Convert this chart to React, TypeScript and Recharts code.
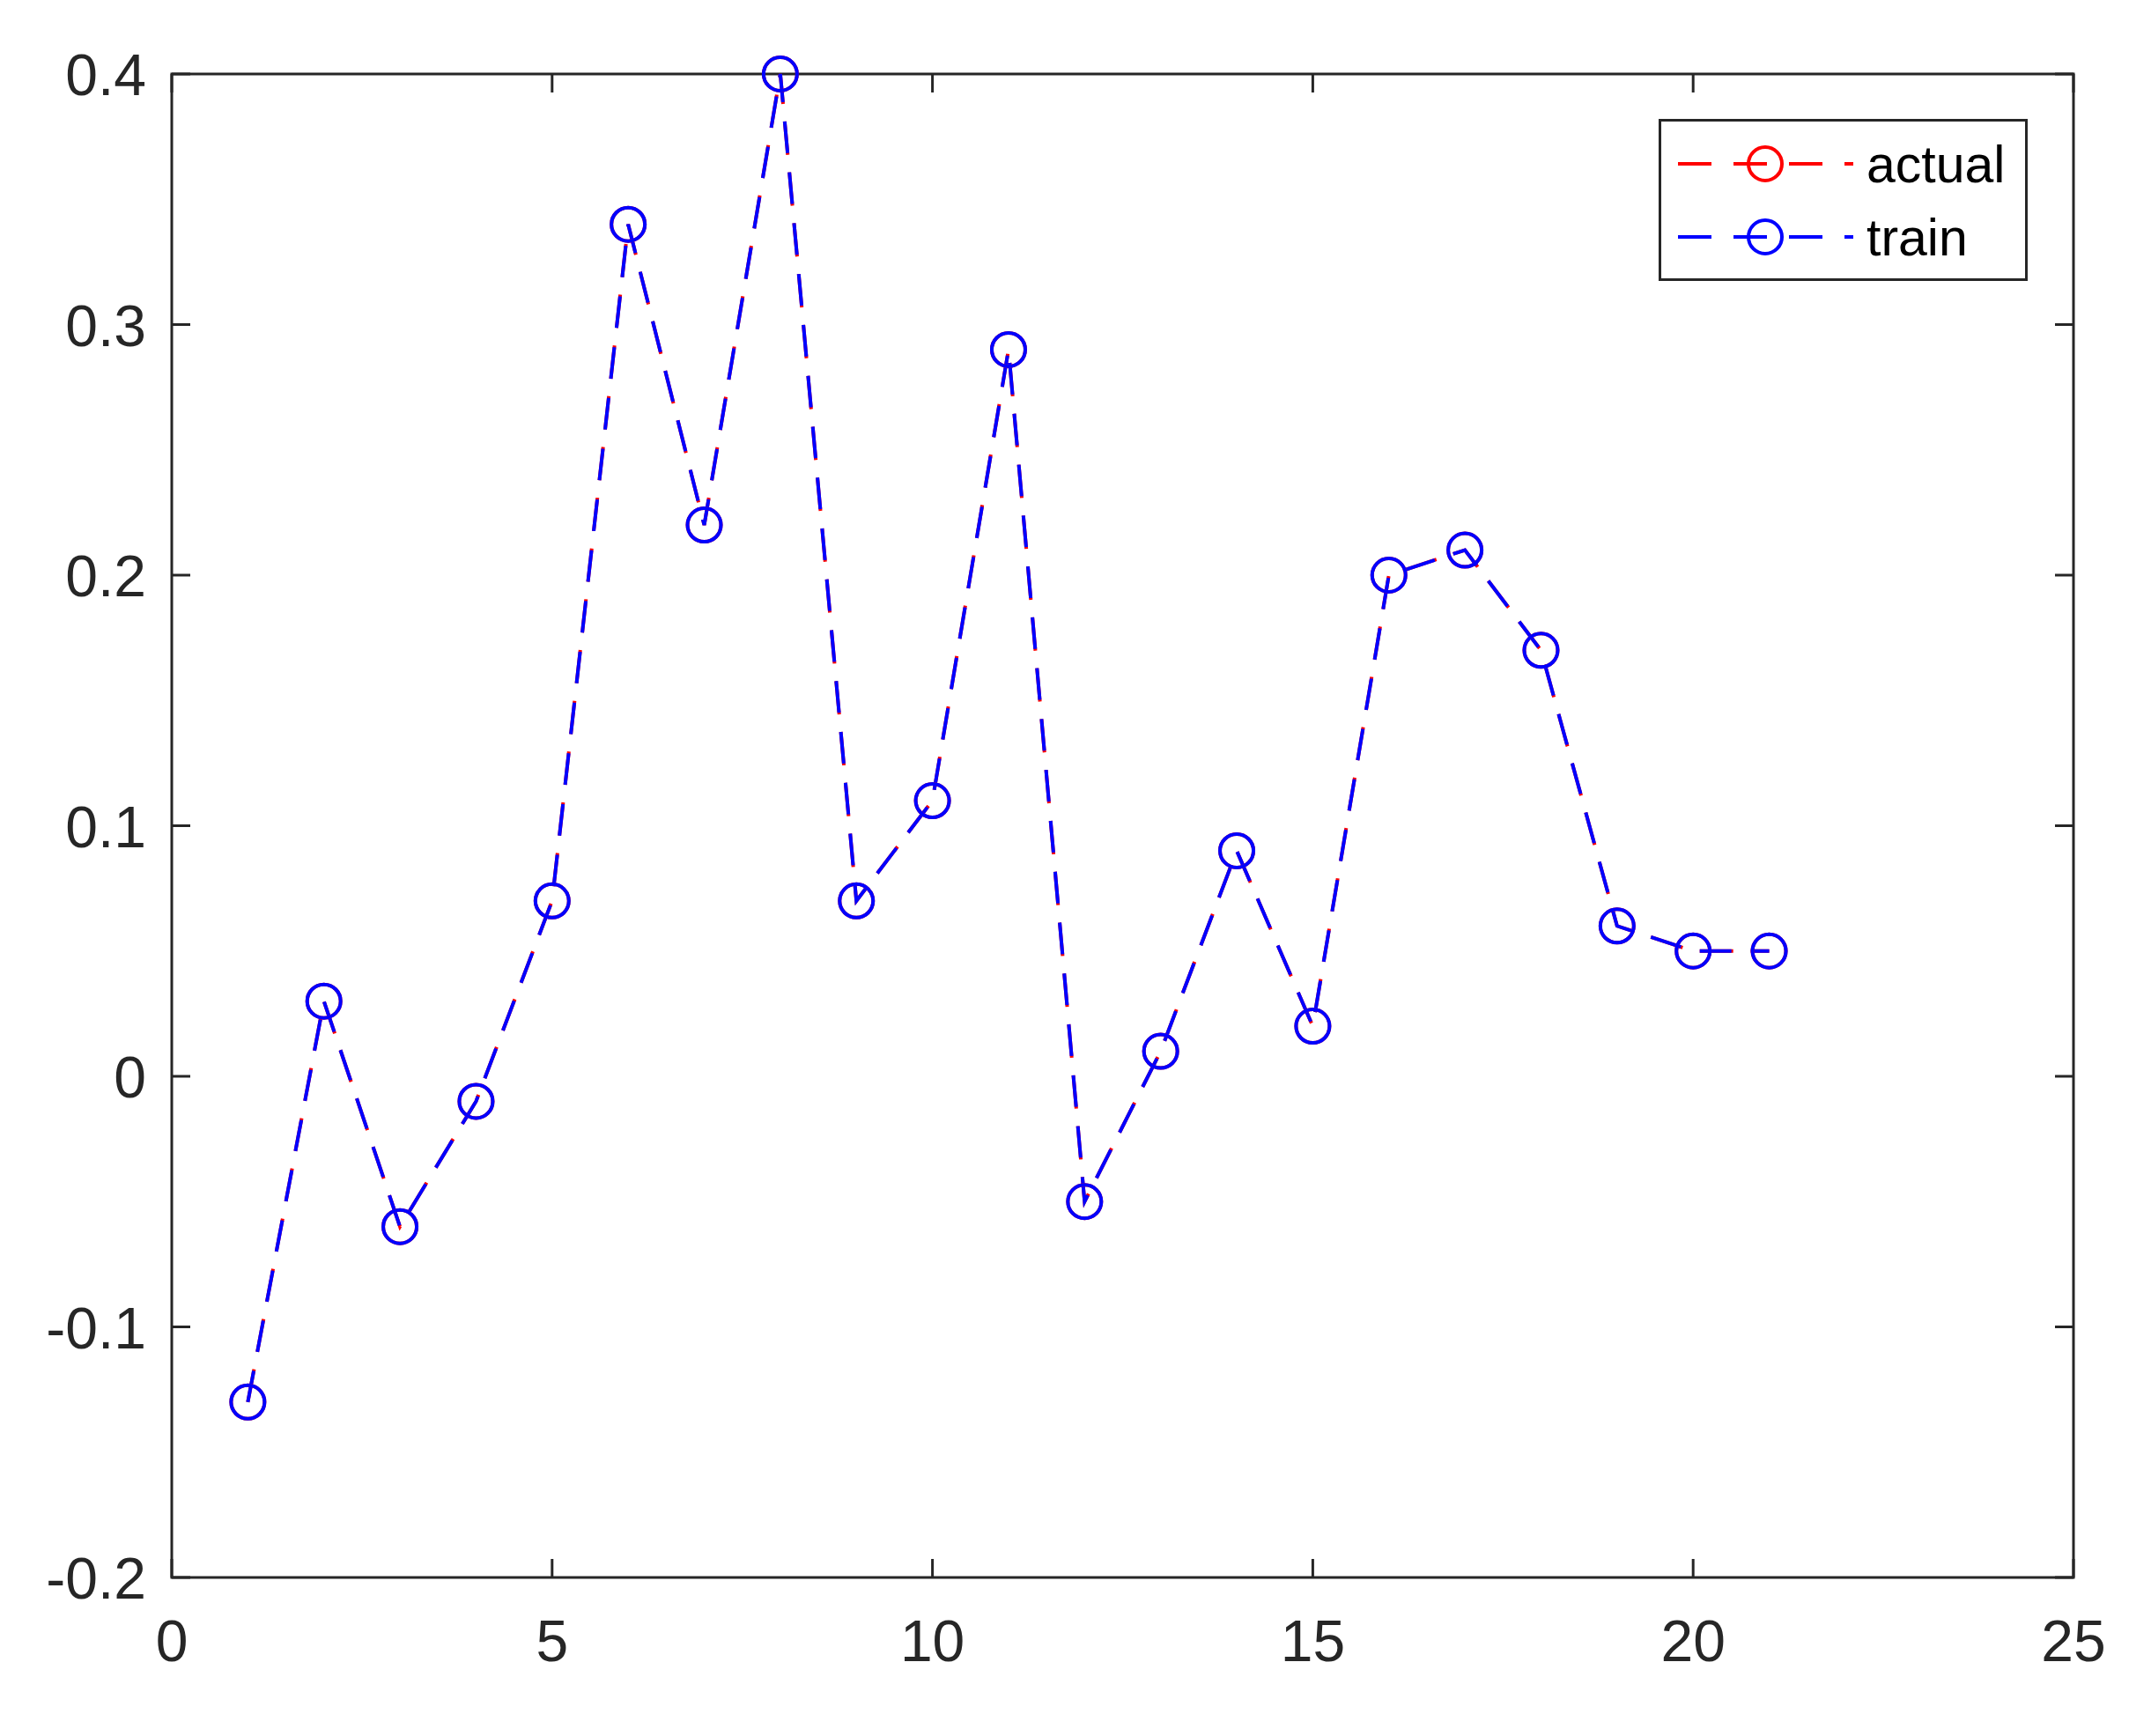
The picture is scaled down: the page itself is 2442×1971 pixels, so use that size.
import { Legend, Line, LineChart, ReferenceArea, XAxis, YAxis } from 'recharts';

// sample index and the two series (they overlap almost exactly)
const steps = [1, 2, 3, 4, 5, 6, 7, 8, 9, 10, 11, 12, 13, 14, 15, 16, 17, 18, 19, 20, 21];
const actualValues = [-0.13, 0.03, -0.06, -0.01, 0.07, 0.34, 0.22, 0.4, 0.07, 0.11, 0.29, -0.05, 0.01, 0.09, 0.02, 0.2, 0.21, 0.17, 0.06, 0.05, 0.05];
const trainValues = [-0.13, 0.03, -0.06, -0.01, 0.07, 0.34, 0.22, 0.4, 0.07, 0.11, 0.29, -0.05, 0.01, 0.09, 0.02, 0.2, 0.21, 0.17, 0.06, 0.05, 0.05];

const xTicks = [0, 5, 10, 15, 20, 25];
const yTicks = [-0.2, -0.1, 0, 0.1, 0.2, 0.3, 0.4];

const data = steps.map((x, i) => ({ x, actual: actualValues[i], train: trainValues[i] }));

const W = 2442;
const H = 1971;
const PLOT_LEFT = 195;
const PLOT_RIGHT = 2354;
const PLOT_TOP = 84;
const PLOT_BOTTOM = 1791;
const TICK_LEN = 21;
const AXIS_COLOR = '#262626';
const FONT = '"Liberation Sans", Arial, Helvetica, sans-serif';

const XTick = (props: any) => {
  const { x, payload } = props;
  return (
    <g>
      <line x1={x} x2={x} y1={PLOT_BOTTOM} y2={PLOT_BOTTOM - TICK_LEN} stroke={AXIS_COLOR} strokeWidth={3} />
      <line x1={x} x2={x} y1={PLOT_TOP} y2={PLOT_TOP + TICK_LEN} stroke={AXIS_COLOR} strokeWidth={3} />
      <text x={x} y={PLOT_BOTTOM + 95} textAnchor="middle" fontSize={66} fontFamily={FONT} fill={AXIS_COLOR}>
        {payload.value}
      </text>
    </g>
  );
};

const YTick = (props: any) => {
  const { y, payload } = props;
  return (
    <g>
      <line x1={PLOT_LEFT} x2={PLOT_LEFT + TICK_LEN} y1={y} y2={y} stroke={AXIS_COLOR} strokeWidth={3} />
      <line x1={PLOT_RIGHT} x2={PLOT_RIGHT - TICK_LEN} y1={y} y2={y} stroke={AXIS_COLOR} strokeWidth={3} />
      <text x={PLOT_LEFT - 29} y={y + 24} textAnchor="end" fontSize={66} fontFamily={FONT} fill={AXIS_COLOR}>
        {String(payload.value)}
      </text>
    </g>
  );
};

const makeDot = (color: string) => (props: any) => {
  const { cx, cy, index } = props;
  return <circle key={index} cx={cx} cy={cy} r={19} fill="none" stroke={color} strokeWidth={4} />;
};

const LegendBox = (props: any) => {
  const items = props.payload || [];
  return (
    <svg width={419} height={184} style={{ display: 'block' }}>
      <rect x={1.5} y={1.5} width={416} height={181} fill="#fff" stroke={AXIS_COLOR} strokeWidth={3} />
      {items.map((item: any, i: number) => {
        const cy = 51 + i * 83;
        return (
          <g key={item.value}>
            <line x1={22} x2={221} y1={cy} y2={cy} stroke={item.color} strokeWidth={4} strokeDasharray="38 25" />
            <circle cx={121} cy={cy} r={19} fill="none" stroke={item.color} strokeWidth={4} />
            <text x={236} y={cy + 21} fontSize={59} fontFamily={FONT} fill="#000">
              {item.value}
            </text>
          </g>
        );
      })}
    </svg>
  );
};

export default function App() {
  return (
    <div style={{ position: 'absolute', left: 0, top: 0, width: W, height: H, background: '#fff' }}>
      <LineChart width={W} height={H} data={data} margin={{ top: PLOT_TOP, right: W - PLOT_RIGHT, left: 0, bottom: 0 }}>
        <XAxis
          dataKey="x"
          type="number"
          domain={[0, 25]}
          ticks={xTicks}
          interval={0}
          height={H - PLOT_BOTTOM}
          axisLine={false}
          tickLine={false}
          tick={<XTick />}
        />
        <YAxis
          type="number"
          domain={[-0.2, 0.4]}
          ticks={yTicks}
          interval={0}
          width={PLOT_LEFT}
          axisLine={false}
          tickLine={false}
          tick={<YTick />}
        />
        <ReferenceArea x1={0} x2={25} y1={-0.2} y2={0.4} fill="none" stroke={AXIS_COLOR} strokeWidth={3} />
        <Line
          name="actual"
          dataKey="actual"
          stroke="#ff0000"
          strokeWidth={4}
          strokeDasharray="38 20"
          dot={makeDot('#ff0000')}
          isAnimationActive={false}
        />
        <Line
          name="train"
          dataKey="train"
          stroke="#0000ff"
          strokeWidth={4}
          strokeDasharray="36 22"
          dot={makeDot('#0000ff')}
          isAnimationActive={false}
        />
        <Legend
          layout="vertical"
          align="center"
          verticalAlign="middle"
          content={<LegendBox />}
          wrapperStyle={{ left: 1883, top: 135, width: 419, height: 184 }}
        />
      </LineChart>
    </div>
  );
}
